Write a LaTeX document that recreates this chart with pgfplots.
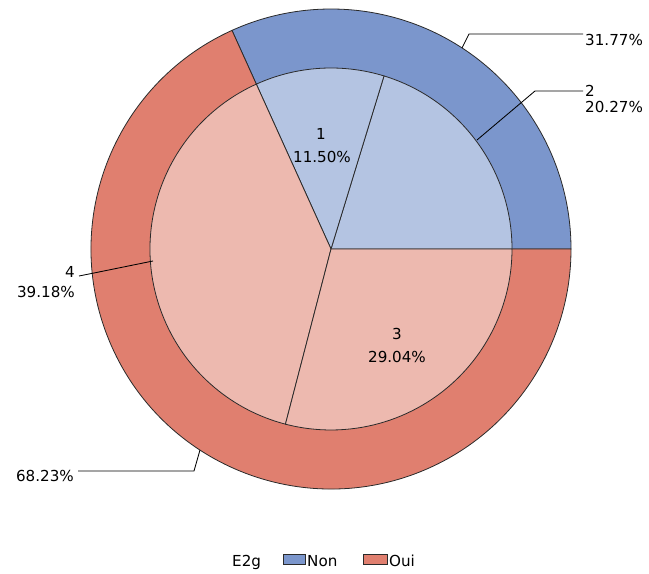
\documentclass[border=0pt]{standalone}
\usepackage{pgfplots}
\pgfplotsset{compat=1.18}
\usepackage{pgfplotstable}
\usepackage{fontspec}
\setmainfont{DejaVu Sans}
\definecolor{nonOut}{HTML}{7B96CC}
\definecolor{ouiOut}{HTML}{E07F6F}
\definecolor{nonIn}{HTML}{B4C4E2}
\definecolor{ouiIn}{HTML}{EDB9AF}
\definecolor{edge}{HTML}{2A2A2A}
\pgfplotstableread{
group value
Non 31.77
Oui 68.23
}\outertable
\pgfplotstableread{
label value
2 20.27
1 11.50
4 39.18
3 29.04
}\innertable
\newcommand\sector[4]{\fill[#1,draw=edge,line width=0.8bp] (axis cs:331,325) -- ++(#2:#4bp) arc[start angle=#2,end angle=#3,radius=#4bp] -- cycle;}
\begin{document}
\begin{tikzpicture}[every node/.style={font=\fontsize{15.2}{18}\selectfont,inner sep=0pt,text=black}]
\pgfplotstablegetelem{0}{value}\of\outertable\pgfmathsetmacro\oA{3.6*\pgfplotsretval}%
\pgfplotstablegetelem{0}{value}\of\innertable\pgfmathsetmacro\iA{3.6*\pgfplotsretval}%
\pgfplotstablegetelem{1}{value}\of\innertable\pgfmathsetmacro\iB{\iA+3.6*\pgfplotsretval}%
\pgfplotstablegetelem{2}{value}\of\innertable\pgfmathsetmacro\iC{\iB+3.6*\pgfplotsretval}%
\begin{axis}[xmin=0,xmax=649,ymin=0,ymax=574,width=649bp,height=574bp,
  scale only axis,hide axis,clip=false]
% outer ring
\sector{nonOut}{0}{\oA}{240}
\sector{ouiOut}{\oA}{360}{240}
% inner pie
\sector{nonIn}{0}{\iA}{181}
\sector{nonIn}{\iA}{\iB}{181}
\sector{ouiIn}{\iB}{\iC}{181}
\sector{ouiIn}{\iC}{360}{181}
% leader lines
\draw[black,line width=0.85bp] (axis cs:462,526) -- (axis cs:469,540) -- (axis cs:583,540);
\draw[black,line width=0.85bp] (axis cs:477,434) -- (axis cs:535,483) -- (axis cs:583,483);
\draw[black,line width=0.85bp] (axis cs:153,313) -- (axis cs:94,301) -- (axis cs:79,298);
\draw[black,line width=0.85bp] (axis cs:200,124) -- (axis cs:194,103) -- (axis cs:78,103);
% labels
\node[anchor=base west] at (axis cs:585,528) {31.77\%};
\node[anchor=base west] at (axis cs:585,477) {2};
\node[anchor=base west] at (axis cs:585,461) {20.27\%};
\node[anchor=base east] at (axis cs:75,296) {4};
\node[anchor=base east] at (axis cs:75,276) {39.18\%};
\node[anchor=base east] at (axis cs:74,92) {68.23\%};
\node[anchor=base] at (axis cs:321,434) {1};
\node[anchor=base] at (axis cs:322,411) {11.50\%};
\node[anchor=base] at (axis cs:397,234) {3};
\node[anchor=base] at (axis cs:397,211) {29.04\%};
% legend
\node[anchor=base west] at (axis cs:232,8) {E2g};
\filldraw[fill=nonOut,draw=edge,line width=0.7bp] (axis cs:283,10) rectangle (axis cs:305,20);
\node[anchor=base west] at (axis cs:307,8) {Non};
\filldraw[fill=ouiOut,draw=edge,line width=0.7bp] (axis cs:363,10) rectangle (axis cs:387,20);
\node[anchor=base west] at (axis cs:389,8) {Oui};
\end{axis}
\pgfresetboundingbox
\useasboundingbox (current axis.south west) rectangle (current axis.north east);
\end{tikzpicture}
\end{document}
